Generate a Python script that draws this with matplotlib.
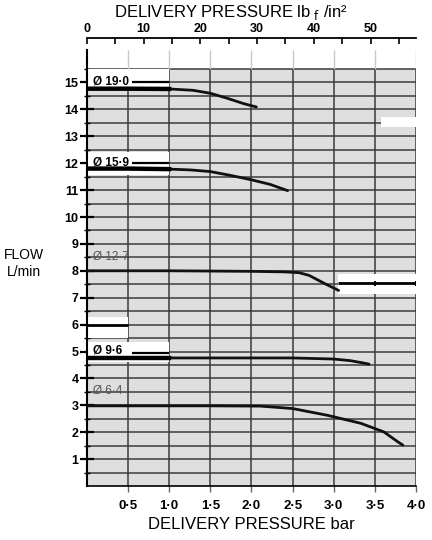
import numpy as np
from matplotlib import pyplot as plt
from matplotlib.patches import Rectangle

plt.rcParams["font.family"] = ["Liberation Sans", "DejaVu Sans"]

# nozzle curves: delivery pressure (bar) vs flow (L/min)
p_190 = [0, 0.5, 1.0, 1.29, 1.5, 1.7, 1.9, 2.06]
q_190 = [14.77, 14.77, 14.76, 14.71, 14.6, 14.42, 14.22, 14.09]

p_159 = [0, 0.5, 1.0, 1.26, 1.5, 1.74, 1.99, 2.23, 2.44]
q_159 = [11.8, 11.8, 11.78, 11.75, 11.69, 11.55, 11.39, 11.21, 10.98]

p_127 = [0, 1.0, 2.0, 2.4, 2.58, 2.7, 2.8, 2.9, 3.0, 3.06]
q_127 = [8.0, 8.0, 7.98, 7.96, 7.93, 7.83, 7.67, 7.51, 7.36, 7.27]

p_96 = [0, 1.0, 2.0, 2.5, 3.0, 3.2, 3.35, 3.43]
q_96 = [4.76, 4.76, 4.76, 4.76, 4.72, 4.66, 4.58, 4.53]

p_64 = [0, 1.0, 1.5, 2.11, 2.5, 2.92, 3.33, 3.61, 3.78, 3.84]
q_64 = [2.98, 2.98, 2.98, 2.97, 2.88, 2.63, 2.33, 2.01, 1.64, 1.52]

bar_ticks = [0.5, 1.0, 1.5, 2.0, 2.5, 3.0, 3.5, 4.0]
flow_ticks = list(range(1, 16))
psi_ticks = [0, 10, 20, 30, 40, 50]

BAR_TO_PSI = 14.5038

fig = plt.figure(figsize=(4.32, 5.4), dpi=100)
ax = fig.add_axes([0.201, 0.1, 0.762, 0.807])
ax.set_xlim(0, 4.0)
ax.set_ylim(0, 16.2)

# shaded chart paper
shade_top = 15.5
ax.add_patch(Rectangle((0, 0), 4.0, shade_top, facecolor="#dedede", edgecolor="none", zorder=0))
for y in np.arange(0.5, shade_top + 0.01, 0.5):
    ax.hlines(y, 0, 4.0, color="#3c3c3c", lw=1.1, zorder=1)
for x in bar_ticks:
    ax.vlines(x, 0, shade_top, color="#3c3c3c", lw=1.1, zorder=1)
    ax.vlines(x, shade_top, 16.2, color="#c8c8c8", lw=1.0, zorder=1)

# white label boxes
boxes = [(0, 14.77, 1.0, 0.73), (0, 11.55, 1.0, 0.85), (0, 5.5, 0.5, 0.8),
         (0, 4.6, 1.0, 0.74), (3.05, 7.12, 0.95, 0.75), (3.57, 13.36, 0.43, 0.34)]
for bx, by, bw, bh in boxes:
    ax.add_patch(Rectangle((bx, by), bw, bh, facecolor="white", edgecolor="none", zorder=2))

# curves
for p, q in [(p_190, q_190), (p_159, q_159), (p_127, q_127), (p_96, q_96), (p_64, q_64)]:
    ax.plot(p, q, color="#111111", lw=2.0, solid_capstyle="round", zorder=4)
# heavier start inside the white boxes
for p, q in [(p_190, q_190), (p_159, q_159), (p_96, q_96)]:
    n = sum(1 for v in p if v <= 1.0)
    ax.plot(p[:n], q[:n], color="black", lw=3.2, zorder=4)

# label dashes
ax.hlines(15.0, 0.55, 1.0, color="black", lw=1.6, zorder=4)
ax.hlines(12.0, 0.55, 1.0, color="black", lw=1.6, zorder=4)
ax.hlines(6.0, 0, 0.5, color="black", lw=2.0, zorder=4)
ax.hlines(4.95, 0.55, 1.0, color="black", lw=1.6, zorder=4)
ax.hlines(7.53, 3.05, 4.0, color="black", lw=2.0, zorder=4)
ax.vlines([3.5, 4.0], 7.43, 7.63, color="black", lw=1.4, zorder=4)

lab = dict(fontsize=8.5, fontweight="bold", va="center", ha="left", zorder=5)
ax.text(0.07, 15.02, "Ø 19·0", **lab)
ax.text(0.07, 12.02, "Ø 15·9", **lab)
ax.text(0.07, 5.02, "Ø 9·6", **lab)
gray = dict(fontsize=8.5, color="#555555", va="center", ha="left", zorder=5)
ax.text(0.07, 8.52, "Ø 12·7", **gray)
ax.text(0.07, 3.52, "Ø 6·4", **gray)

# axes styling
for s in ["top", "right"]:
    ax.spines[s].set_visible(False)
ax.spines["left"].set_linewidth(1.5)
ax.spines["bottom"].set_linewidth(1.2)
ax.set_yticks(flow_ticks)
ax.set_yticks(np.arange(0.5, 16, 1.0), minor=True)
ax.set_yticklabels([str(v) for v in flow_ticks], fontsize=9, fontweight="bold")
ax.tick_params(axis="y", which="major", direction="inout", length=10, width=1.6, pad=1)
ax.tick_params(axis="y", which="minor", direction="inout", length=4, width=1.0)
ax.set_xticks(bar_ticks)
ax.set_xticklabels([f"{v:.1f}".replace(".", "·") for v in bar_ticks], fontsize=9.5, fontweight="bold")
ax.tick_params(axis="x", direction="out", length=4, width=1.0, color="#666666", pad=6)
ax.set_xlabel("DELIVERY PRESSURE bar", fontsize=12, labelpad=4)

top = ax.secondary_xaxis(1.028, functions=(lambda b: b * BAR_TO_PSI, lambda s: s / BAR_TO_PSI))
top.set_xticks(psi_ticks)
top.set_xticks(np.arange(5, 58, 10), minor=True)
top.set_xticklabels([str(v) for v in psi_ticks], fontsize=9, fontweight="bold")
top.tick_params(axis="x", which="both", direction="in", length=4, width=1.2, pad=2)
top.spines["top"].set_linewidth(1.3)

fig.text(0.534, 0.977, "DELIVERY PRESSURE lb$_{\\ \\mathrm{f}}$ /in²", fontsize=12, ha="center", va="center")
fig.text(0.055, 0.527, "FLOW", fontsize=10, ha="center", va="center")
fig.text(0.055, 0.496, "L/min", fontsize=10, ha="center", va="center")

fig.savefig("out.png", dpi=100)
